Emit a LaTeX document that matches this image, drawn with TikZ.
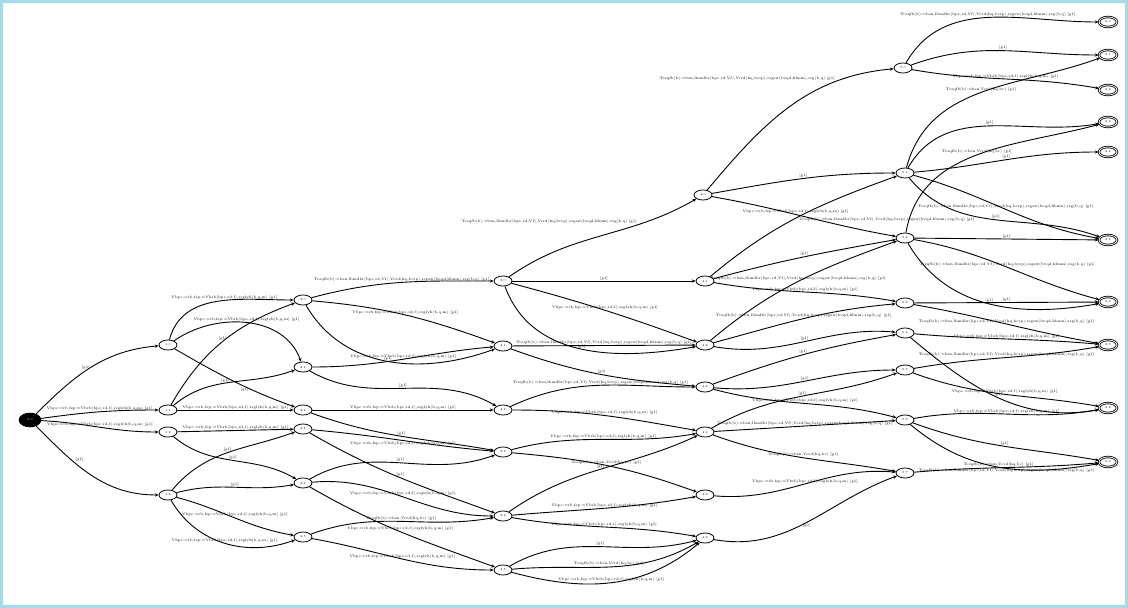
\documentclass[tikz,border=0pt]{standalone}
\usepackage{tikz}
\usetikzlibrary{positioning}
\usetikzlibrary{shapes.geometric}
\usetikzlibrary{arrows.meta}
\definecolor{framecol}{RGB}{165,218,232}

% edge labels
\newcommand{\gA}{[g1]}
\newcommand{\lA}{Vbpc:=rb,fsp:=Vbrb(bpc,rd,f),rsglyh(b,q,m) [g1]}
\newcommand{\lB}{Tcsqfb(b):=bsn,lbmdbr(bpc,rd,Vf),Vcrd(hq,bcrp),rsgsw(bvqd,hbnm),rsg(b,q) [g1]}
\newcommand{\lC}{Tcsqfb(b):=bsn,Vcrd(hq,bc) [g1]}

\begin{document}
\begin{tikzpicture}[x=1pt,y=1pt,
 st/.style={ellipse, draw, line width=0.8pt, inner sep=0.3pt, minimum width=18pt, minimum height=10pt, font=\fontsize{3}{3}\selectfont},
 acc/.style={st, double, double distance=0.8pt},
 ini/.style={st, fill=black, line width=2.6pt, minimum width=20pt, minimum height=12pt, text=white},
 tr/.style={-{Stealth[length=3.8pt,width=3.2pt]}, line width=0.9pt},
 lb/.style={font=\fontsize{3.6}{4}\selectfont, inner sep=0.6pt}]

\useasboundingbox (0,0) rectangle (1128,-608);
\draw[framecol, line width=3pt] (1.5,-1.5) rectangle (1126.5,-606.5);

% states
{
\node[ini] (q0) at (30,-420) {0.0};

\node[st] (a1) at (168,-345) {1.0};
\node[st] (a2) at (168,-410) {1.1};
\node[st] (a3) at (168,-432) {1.2};
\node[st] (a4) at (168,-495) {1.3};

\node[st] (b1) at (303,-300) {2.0};
\node[st] (b2) at (303,-367) {2.1};
\node[st] (b3) at (303,-410) {2.2};
\node[st] (b4) at (303,-429) {2.3};
\node[st] (b5) at (303,-483) {2.4};
\node[st] (b6) at (303,-537) {2.5};

\node[st] (c1) at (503,-281) {3.0};
\node[st] (c2) at (503,-346) {3.1};
\node[st] (c3) at (503,-410) {3.2};
\node[st] (c4) at (503,-452) {3.3};
\node[st] (c5) at (503,-516) {3.4};
\node[st] (c6) at (503,-570) {3.5};

\node[st] (d1) at (703,-195) {4.0};
\node[st] (d2) at (705,-281) {4.1};
\node[st] (d3) at (705,-345) {4.2};
\node[st] (d4) at (705,-387) {4.3};
\node[st] (d5) at (705,-432) {4.4};
\node[st] (d6) at (705,-495) {4.5};
\node[st] (d7) at (705,-538) {4.6};

\node[st] (e1) at (903,-68) {5.0};
\node[st] (e2) at (905,-173) {5.1};
\node[st] (e3) at (905,-238) {5.2};
\node[st] (e4) at (905,-303) {5.3};
\node[st] (e5) at (905,-333) {5.4};
\node[st] (e6) at (905,-370) {5.5};
\node[st] (e7) at (905,-420) {5.6};
\node[st] (e8) at (905,-473) {5.7};

\node[acc] (f1) at (1108,-22) {6.0};
\node[acc] (f2) at (1108,-55) {6.1};
\node[acc] (f3) at (1108,-90) {6.2};
\node[acc] (f4) at (1108,-122) {6.3};
\node[acc] (f5) at (1108,-152) {6.4};
\node[acc] (f6) at (1108,-240) {6.5};
\node[acc] (f7) at (1108,-302) {6.6};
\node[acc] (f8) at (1108,-345) {6.7};
\node[acc] (f9) at (1108,-408) {6.8};
\node[acc] (f10) at (1108,-462) {6.9};
}

% start to first column
{
\draw[tr] (q0) to[out=45,in=185] node[lb,above,pos=0.45]{\gA} (a1);
\draw[tr] (q0) to[out=8,in=180] node[lb,above]{\lA} (a2);
\draw[tr] (q0) to[out=-3,in=180] node[lb,above]{\lA} (a3);
\draw[tr] (q0) to[out=-45,in=180] node[lb,above right,pos=0.35]{\gA} (a4);
}

% first to second column
{
\draw[tr] (a1) to[out=75,in=180] node[lb,above,pos=0.55]{\lA} (b1);
\draw[tr] (a1) to[out=35,in=110] node[lb,above]{\lA} (b2);
\draw[tr] (a2) to[out=60,in=200] node[lb,above]{\gA} (b1);
\draw[tr] (a1) to[out=-30,in=160] node[lb,below,pos=0.6]{\gA} (b3);
\draw[tr] (a2) to[out=40,in=200] node[lb,above,pos=0.45]{\gA} (b2);
\draw[tr] (a2) -- node[lb,above]{\lA} (b3);
\draw[tr] (a3) -- node[lb,above]{\lA} (b4);
\draw[tr] (a3) to[out=-40,in=150] node[lb,above]{\gA} (b5);
\draw[tr] (a4) to[out=50,in=200] node[lb,above]{\gA} (b4);
\draw[tr] (a4) to[out=15,in=190] node[lb,above]{\gA} (b5);
\draw[tr] (a4) to[out=-15,in=170] node[lb,above]{\lA} (b6);
\draw[tr] (a4) to[out=-60,in=200] node[lb,above]{\lA} (b6);
}

% second to third column
{
\draw[tr] (b1) to[out=15,in=180] node[lb,above]{\lB} (c1);
\draw[tr] (b1) to[out=-5,in=160] node[lb,above]{\lA} (c2);
\draw[tr] (b1) to[out=-60,in=200] node[lb,above]{\gA} (c2);
\draw[tr] (b2) to[out=0,in=185] node[lb,above]{\lA} (c2);
\draw[tr] (b2) to[out=-30,in=150] node[lb,above]{\gA} (c3);
\draw[tr] (b3) -- node[lb,above]{\lA} (c3);
\draw[tr] (b3) to[out=-20,in=170] node[lb,above]{\gA} (c4);
\draw[tr] (b4) to[out=-5,in=175] node[lb,below]{\lA} (c4);
\draw[tr] (b4) to[out=-30,in=160] node[lb,above]{\gA} (c5);
\draw[tr] (b5) to[out=30,in=200] node[lb,above]{\gA} (c4);
\draw[tr] (b5) to[out=5,in=180] node[lb,above]{\lA} (c5);
\draw[tr] (b5) to[out=-30,in=160] node[lb,above]{\lA} (c6);
\draw[tr] (b6) to[out=20,in=190] node[lb,above]{\lC} (c5);
\draw[tr] (b6) to[out=-10,in=180] node[lb,above]{\lA} (c6);
}

% third to fourth column
{
\draw[tr] (c1) to[out=35,in=210] node[lb,above left,pos=0.7]{\lB} (d1);
\draw[tr] (c1) -- node[lb,above]{\gA} (d2);
\draw[tr] (c1) to[out=-15,in=160] node[lb,above]{\lA} (d3);
\draw[tr] (c1) to[out=-70,in=190] node[lb,above]{\gA} (d3);
\draw[tr] (c2) -- node[lb,above]{\lB} (d3);
\draw[tr] (c2) to[out=-20,in=175] node[lb,above]{\gA} (d4);
\draw[tr] (c3) to[out=25,in=180] node[lb,above]{\lB} (d4);
\draw[tr] (c3) to[out=0,in=170] node[lb,above]{\lA} (d5);
\draw[tr] (c4) to[out=15,in=190] node[lb,above]{\lA} (d5);
\draw[tr] (c4) to[out=-5,in=160] node[lb,above]{\lC} (d6);
\draw[tr] (c5) to[out=35,in=205] node[lb,above]{\gA} (d5);
\draw[tr] (c5) to[out=5,in=190] node[lb,above]{\lA} (d6);
\draw[tr] (c5) to[out=-10,in=170] node[lb,above]{\lA} (d7);
\draw[tr] (c6) to[out=30,in=195] node[lb,above]{\gA} (d7);
\draw[tr] (c6) to[out=5,in=210] node[lb,above]{\lC} (d7);
\draw[tr] (c6) to[out=-15,in=220] node[lb,above]{\lA} (d7);
}

% fourth to fifth column
{
\draw[tr] (d1) to[out=50,in=185] node[lb,above left,pos=0.75]{\lB} (e1);
\draw[tr] (d1) to[out=10,in=180] node[lb,above]{\gA} (e2);
\draw[tr] (d1) to[out=-10,in=170] node[lb,above,pos=0.45]{\lA} (e3);
\draw[tr] (d2) to[out=40,in=200] node[lb,below right,pos=0.5]{\lB} (e2);
\draw[tr] (d2) to[out=15,in=190] node[lb,above]{\gA} (e3);
\draw[tr] (d2) to[out=-10,in=170] node[lb,above]{\lA} (e4);
\draw[tr] (d3) to[out=40,in=200] node[lb,above]{\lB} (e3);
\draw[tr] (d3) to[out=15,in=185] node[lb,above]{\lB} (e4);
\draw[tr] (d3) to[out=-10,in=175] node[lb,above]{\gA} (e5);
\draw[tr] (d4) to[out=20,in=190] node[lb,above]{\gA} (e5);
\draw[tr] (d4) to[out=-5,in=180] node[lb,above]{\gA} (e6);
\draw[tr] (d5) to[out=30,in=200] node[lb,above]{\gA} (e6);
\draw[tr] (d4) to[out=-15,in=165] node[lb,above]{\lA} (e7);
\draw[tr] (d5) -- node[lb,above]{\lB} (e7);
\draw[tr] (d5) to[out=-20,in=170] node[lb,above]{\lC} (e8);
\draw[tr] (d6) to[out=-5,in=175] node[lb,above]{\lA} (e8);
\draw[tr] (d7) to[out=-10,in=200] node[lb,below]{\gA} (e8);
}

% fifth to last column
{
\draw[tr] (e1) to[out=60,in=180] node[lb,above]{\lB} (f1);
\draw[tr] (e1) to[out=20,in=180] node[lb,above]{\gA} (f2);
\draw[tr] (e1) to[out=-10,in=170] node[lb,above]{\lA} (f3);
\draw[tr] (e2) to[out=75,in=200] node[lb,above]{\lC} (f2);
\draw[tr] (e2) to[out=60,in=190] node[lb,above]{\gA} (f4);
\draw[tr] (e2) to[out=5,in=180] node[lb,above]{\gA} (f5);
\draw[tr] (e3) to[out=80,in=195] node[lb,above]{\lC} (f4);
\draw[tr] (e2) to[out=-15,in=170] node[lb,above]{\lB} (f6);
\draw[tr] (e2) to[out=-50,in=160] node[lb,above]{\gA} (f6);
\draw[tr] (e3) -- node[lb,above]{\gA} (f6);
\draw[tr] (e3) to[out=-10,in=165] node[lb,above]{\lB} (f7);
\draw[tr] (e3) to[out=-60,in=190] node[lb,above]{\gA} (f7);
\draw[tr] (e4) -- node[lb,above]{\gA} (f7);
\draw[tr] (e4) to[out=-10,in=170] node[lb,above]{\lB} (f8);
\draw[tr] (e5) to[out=-5,in=175] node[lb,above]{\lA} (f8);
\draw[tr] (e5) to[out=-40,in=190] node[lb,above]{\gA} (f9);
\draw[tr] (e6) to[out=10,in=190] node[lb,above]{\lB} (f8);
\draw[tr] (e6) to[out=-20,in=170] node[lb,above]{\lA} (f9);
\draw[tr] (e7) to[out=10,in=190] node[lb,above]{\lA} (f9);
\draw[tr] (e7) to[out=-20,in=170] node[lb,above]{\gA} (f10);
\draw[tr] (e7) to[out=-40,in=190] node[lb,above]{\lC} (f10);
\draw[tr] (e8) to[out=5,in=185] node[lb,below]{\lB} (f10);
}
\end{tikzpicture}
\end{document}
